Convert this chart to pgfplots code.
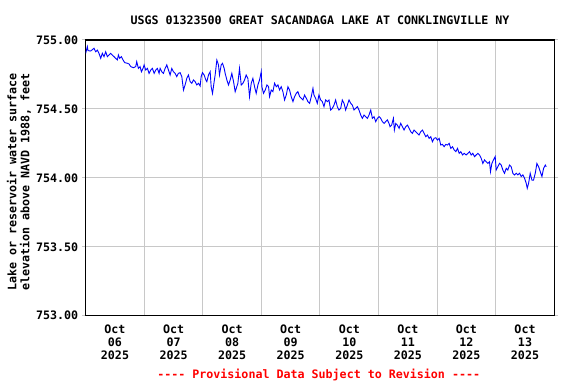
\documentclass[border=0pt]{standalone}
\usepackage{pgfplots}
\pgfplotsset{compat=1.18}
\usepackage{fontspec}
\setmainfont{DejaVu Sans Mono}[Ligatures=TeXOff]
\definecolor{gridgray}{RGB}{200,200,200}
\newcommand{\lbl}{\fontsize{11.7}{13}\selectfont\bfseries}
\begin{document}
\begin{tikzpicture}
\useasboundingbox (-85.7bp,-68.3bp) rectangle (490.3bp,315.7bp);
\begin{axis}[
  at={(0,0)}, anchor=south west,
  scale only axis, width=468.6bp, height=275.7bp,
  xmin=0, xmax=8, ymin=753, ymax=755,
  axis line style={black, line width=1.2bp},
  xtick={0.5,1.5,2.5,3.5,4.5,5.5,6.5,7.5},
  xticklabels={{Oct\\06\\2025},{Oct\\07\\2025},{Oct\\08\\2025},{Oct\\09\\2025},{Oct\\10\\2025},{Oct\\11\\2025},{Oct\\12\\2025},{Oct\\13\\2025}},
  x tick label style={align=center, font=\lbl, yshift=-2bp},
  major x tick style={draw=none},
  minor xtick={1,2,3,4,5,6,7},
  minor x tick style={draw=none},
  xminorgrids=true,
  ytick={753,753.5,754,754.5,755},
  ymajorgrids=true,
  grid style={gridgray, line width=1bp},
  minor grid style={gridgray, line width=1bp},
  y tick style={gridgray, line width=1bp},
  tick align=outside,
  major tick length=4bp,
  scaled y ticks=false,
  /pgf/number format/assume math mode=true,
  y tick label style={font=\lbl, /pgf/number format/fixed, /pgf/number format/fixed zerofill, /pgf/number format/precision=2, /pgf/number format/1000 sep={}},
]
\addplot[blue, line width=0.9bp, no markers] coordinates {
(0.000,754.903)(0.028,754.952)(0.039,754.923)(0.085,754.920)(0.142,754.940)(0.170,754.915)(0.199,754.927)(0.227,754.903)
(0.256,754.867)(0.284,754.903)(0.313,754.879)(0.341,754.915)(0.370,754.879)(0.398,754.891)(0.427,754.903)(0.455,754.891)
(0.484,754.879)(0.512,754.867)(0.541,754.855)(0.558,754.891)(0.581,754.867)(0.609,754.879)(0.638,754.855)(0.666,754.836)
(0.712,754.831)(0.740,754.826)(0.769,754.807)(0.814,754.799)(0.854,754.807)(0.871,754.843)(0.900,754.794)(0.928,754.807)
(0.951,754.770)(0.979,754.794)(0.997,754.819)(1.025,754.782)(1.054,754.794)(1.082,754.758)(1.111,754.782)(1.139,754.794)
(1.168,754.758)(1.196,754.782)(1.224,754.794)(1.253,754.758)
(1.270,754.794)(1.299,754.770)(1.327,754.758)(1.356,754.794)(1.384,754.819)(1.413,754.782)(1.441,754.746)(1.470,754.794)
(1.498,754.770)(1.527,754.758)(1.555,754.734)(1.583,754.758)(1.612,754.763)(1.641,754.734)(1.669,754.637)(1.697,754.674)
(1.726,754.722)(1.754,754.746)(1.783,754.698)(1.811,754.686)(1.840,754.710)(1.868,754.698)(1.897,754.674)(1.925,754.686)
(1.954,754.666)(1.971,754.734)(1.994,754.763)(2.022,754.746)(2.051,754.710)(2.068,754.698)(2.096,754.746)(2.125,754.770)
(2.142,754.661)(2.165,754.613)(2.193,754.698)(2.210,754.746)(2.239,754.855)(2.267,754.819)(2.284,754.746)(2.313,754.819)
(2.336,754.831)(2.364,754.794)(2.381,754.758)(2.410,754.710)(2.438,754.674)(2.467,754.710)(2.495,754.758)(2.524,754.698)
(2.552,754.625)
(2.598,754.686)(2.626,754.794)(2.655,754.674)(2.683,754.686)(2.712,754.710)(2.740,754.746)(2.769,754.722)(2.797,754.589)
(2.826,754.686)(2.854,754.722)(2.883,754.661)(2.911,754.613)(2.940,754.674)(2.968,754.710)(2.997,754.770)(3.008,754.661)
(3.036,754.613)(3.065,754.637)(3.094,754.674)(3.122,754.661)(3.139,754.589)(3.168,754.637)(3.196,754.625)(3.224,754.686)
(3.253,754.661)(3.282,754.674)(3.310,754.637)(3.338,754.661)(3.367,754.625)(3.395,754.565)(3.424,754.601)(3.453,754.661)
(3.481,754.637)(3.509,754.589)(3.538,754.553)(3.566,754.589)(3.595,754.613)(3.623,754.625)(3.652,754.589)(3.680,754.577)
(3.709,754.565)(3.737,754.601)(3.766,754.577)(3.794,754.553)(3.823,754.541)(3.851,754.589)(3.880,754.649)
(3.897,754.601)(3.925,754.577)(3.954,754.541)(3.982,754.601)(4.011,754.565)(4.039,754.553)(4.068,754.516)(4.096,754.565)
(4.125,754.553)(4.153,754.565)(4.182,754.492)(4.210,754.504)(4.239,754.528)(4.267,754.565)(4.296,754.516)(4.324,754.492)
(4.353,754.504)(4.381,754.565)(4.410,754.541)(4.438,754.492)(4.467,754.528)(4.495,754.565)(4.524,754.541)(4.552,754.528)
(4.581,754.492)(4.609,754.504)(4.638,754.516)(4.666,754.492)(4.695,754.456)(4.723,754.432)(4.752,754.456)(4.780,754.444)
(4.809,754.432)(4.837,754.456)(4.866,754.492)(4.894,754.432)(4.923,754.444)(4.951,754.408)(4.980,754.432)(5.008,754.444)
(5.036,754.432)(5.065,754.408)(5.094,754.395)(5.122,754.408)(5.150,754.420)(5.179,754.395)
(5.196,754.371)(5.224,754.383)(5.253,754.432)(5.270,754.347)(5.293,754.395)(5.321,754.383)(5.350,754.359)(5.378,754.395)
(5.407,754.371)(5.435,754.347)(5.464,754.371)(5.492,754.383)(5.521,754.359)(5.549,754.335)(5.578,754.323)(5.606,754.347)
(5.635,754.335)(5.663,754.323)(5.692,754.311)(5.720,754.335)(5.749,754.347)(5.777,754.323)(5.806,754.299)(5.834,754.311)
(5.863,754.287)(5.891,754.299)(5.920,754.262)(5.948,754.287)(5.977,754.291)(6.005,754.274)(6.034,754.287)(6.062,754.238)
(6.091,754.243)(6.119,754.226)(6.148,754.243)(6.176,754.238)(6.205,754.250)(6.233,754.214)(6.262,754.226)(6.290,754.202)
(6.319,754.190)(6.347,754.214)(6.376,754.178)(6.404,754.190)(6.433,754.166)(6.461,754.178)
(6.495,754.166)(6.524,754.178)(6.552,754.190)(6.581,754.166)(6.609,754.178)(6.638,754.154)(6.666,754.166)(6.695,754.178)
(6.723,754.166)(6.752,754.142)(6.780,754.105)(6.809,754.130)(6.837,754.117)(6.866,754.105)(6.894,754.117)(6.911,754.045)
(6.934,754.105)(6.962,754.130)(6.991,754.154)(7.008,754.057)(7.036,754.081)(7.065,754.105)(7.094,754.093)(7.122,754.057)
(7.150,754.033)(7.179,754.069)(7.207,754.057)(7.236,754.093)(7.264,754.081)(7.293,754.033)(7.322,754.021)(7.350,754.033)
(7.378,754.021)(7.407,754.033)(7.435,754.009)(7.464,754.021)(7.492,753.997)(7.521,753.960)(7.538,753.924)(7.561,753.960)
(7.589,754.033)(7.618,753.984)(7.646,753.984)(7.675,754.033)(7.703,754.105)(7.732,754.081)(7.760,754.045)(7.789,754.009)
(7.817,754.069)(7.846,754.093)(7.863,754.081)
};
\end{axis}
\node[font=\lbl] at (234.3bp,295.7bp) {USGS 01323500 GREAT SACANDAGA LAKE AT CONKLINGVILLE NY};
\node[font=\lbl, text=red] at (233bp,-59.3bp) {---- Provisional Data Subject to Revision ----};
\node[font=\lbl, rotate=90, align=center] at (-66.7bp,133.7bp) {Lake or reservoir water surface\\elevation above NAVD 1988, feet};
\end{tikzpicture}
\end{document}
